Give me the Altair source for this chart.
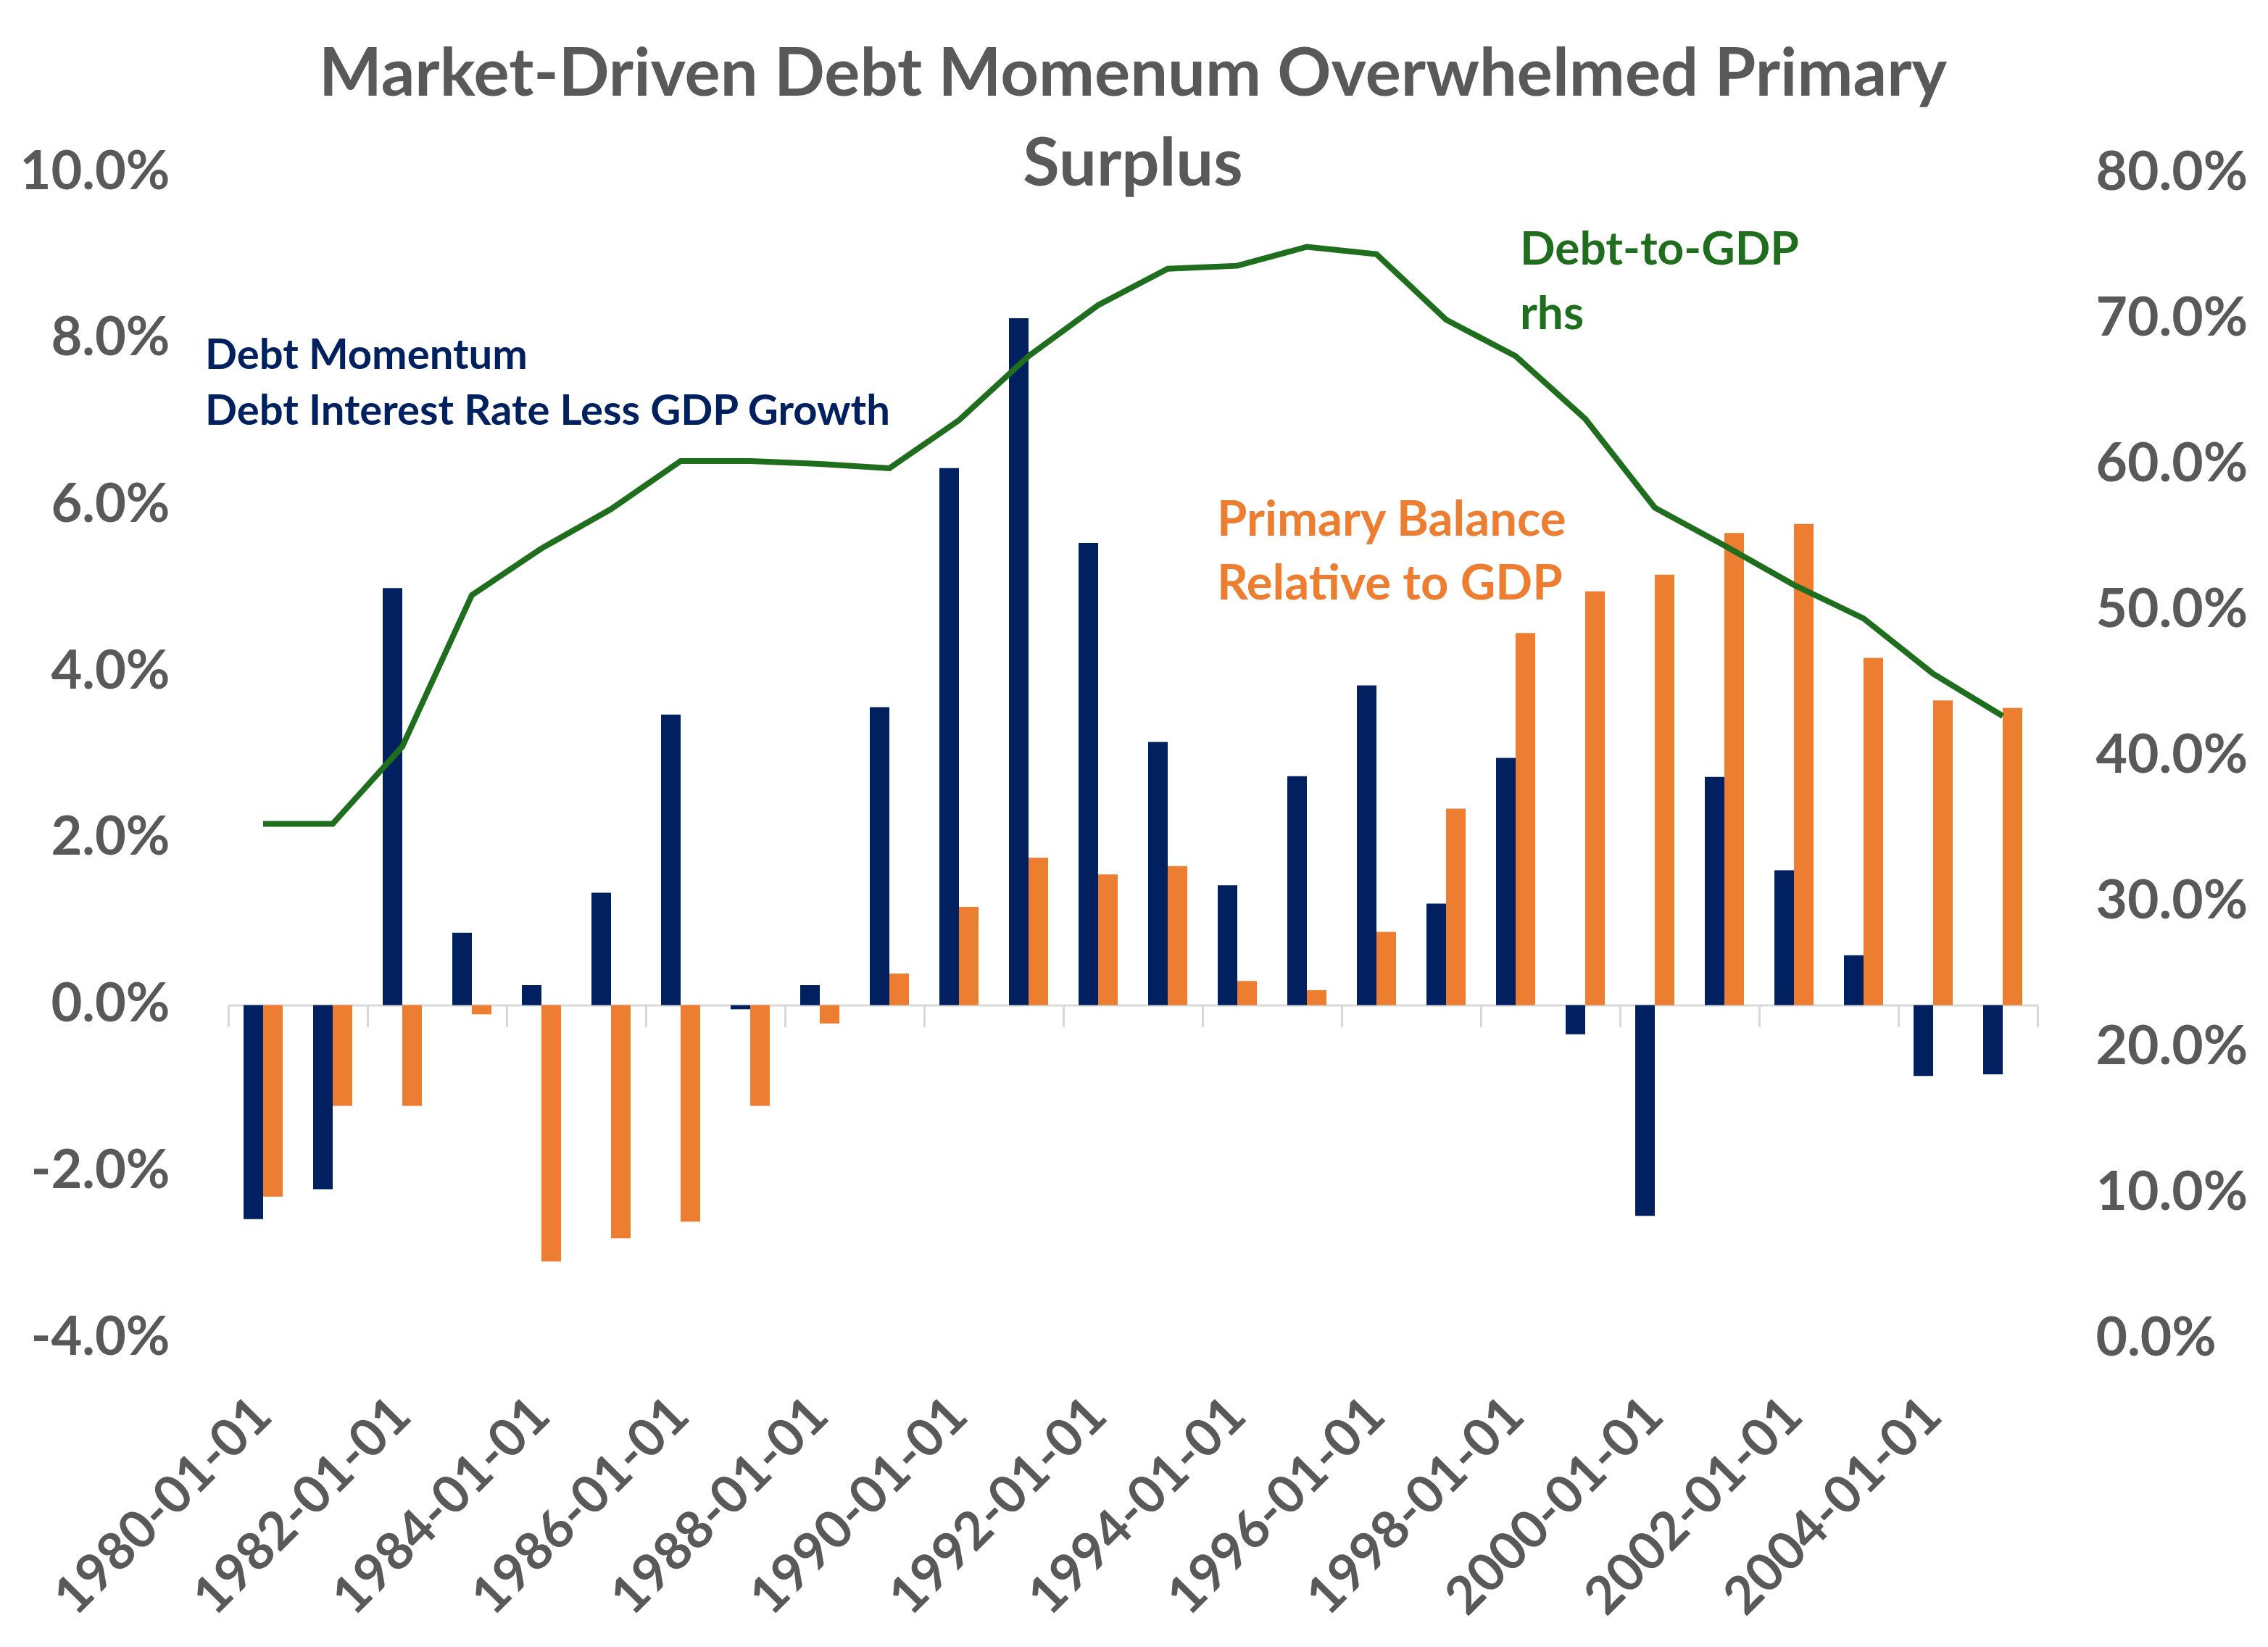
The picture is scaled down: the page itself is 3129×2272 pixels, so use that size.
import altair as alt
import pandas as pd

# category labels (annual observations)
dates = [
    "1980-01-01", "1981-01-01", "1982-01-01", "1983-01-01", "1984-01-01",
    "1985-01-01", "1986-01-01", "1987-01-01", "1988-01-01", "1989-01-01",
    "1990-01-01", "1991-01-01", "1992-01-01", "1993-01-01", "1994-01-01",
    "1995-01-01", "1996-01-01", "1997-01-01", "1998-01-01", "1999-01-01",
    "2000-01-01", "2001-01-01", "2002-01-01", "2003-01-01", "2004-01-01",
    "2005-01-01",
]
label_dates = dates[::2]

# % values, left axis
debt_momentum = [
    -2.57, -2.21, 5.01, 0.87, 0.24, 1.35, 3.49, -0.05, 0.24, 3.58,
    6.45, 8.25, 5.55, 3.16, 1.44, 2.75, 3.84, 1.22, 2.97, -0.35,
    -2.53, 2.74, 1.62, 0.60, -0.85, -0.83,
]
primary_balance = [
    -2.30, -1.21, -1.21, -0.11, -3.08, -2.80, -2.60, -1.21, -0.22, 0.38,
    1.18, 1.77, 1.57, 1.67, 0.29, 0.18, 0.88, 2.36, 4.47, 4.97,
    5.17, 5.67, 5.78, 4.17, 3.66, 3.57,
]
# % of GDP, right axis
debt_to_gdp = [
    35.3, 35.3, 40.6, 51.0, 54.2, 56.9, 60.2, 60.2, 60.0, 59.7,
    63.0, 67.4, 70.9, 73.4, 73.6, 74.9, 74.4, 69.9, 67.4, 63.1,
    57.0, 54.4, 51.7, 49.4, 45.6, 42.7,
]

left_ticks = [-4, -2, 0, 2, 4, 6, 8, 10]
right_ticks = [0, 10, 20, 30, 40, 50, 60, 70, 80]
series = ["Debt Momentum", "Primary Balance"]

# annotation texts: anchor category, left-axis value, text
notes_blue = (["1980-01-01", "1980-01-01"], [7.64, 6.97],
              ["Debt Momentum", "Debt Interest Rate Less GDP Growth"])
notes_green = (["1998-01-01", "1998-01-01"], [8.89, 8.12], ["Debt-to-GDP", "rhs"])
notes_orange = (["1994-01-01", "1994-01-01"], [5.64, 4.87],
                ["Primary Balance", "Relative to GDP"])

NAVY = "#002060"
ORANGE = "#ED7D31"
GREEN = "#1E6E1E"
GRAY = "#595959"
LIGHT = "#D9D9D9"
FONT = "Lato"

W, H = 2496, 1608
Y_MIN, Y_MAX = -4, 10

bars_df = pd.DataFrame(
    {"date": dates, "Debt Momentum": debt_momentum, "Primary Balance": primary_balance}
).melt("date", var_name="series", value_name="value")
line_df = pd.DataFrame({"date": dates, "debt": debt_to_gdp})

x_scale = alt.Scale(domain=dates, paddingInner=0, paddingOuter=0)
# hyphen-minus like Excel, one decimal
pct_expr = "(datum.value < 0 ? '-' : '') + format(abs(datum.value), '.1f') + '%'"

x_axis_labels = alt.Axis(
    orient="bottom", values=label_dates, labelAngle=-45, labelAlign="right",
    labelBaseline="middle", labelFont=FONT, labelFontSize=72,
    labelFontWeight="bold", labelColor=GRAY, labelPadding=95, labelLimit=0,
    domain=False, ticks=False, grid=False, title=None,
)
y_axis_left = alt.Axis(
    orient="left", values=left_ticks, labelExpr=pct_expr,
    labelFont=FONT, labelFontSize=74, labelFontWeight="bold", labelLimit=0,
    labelColor=GRAY, labelPadding=81, domain=False, ticks=False,
    grid=False, title=None,
)
y_axis_right = alt.Axis(
    orient="right", values=right_ticks, labelExpr=pct_expr,
    labelFont=FONT, labelFontSize=75, labelFontWeight="bold", labelLimit=0,
    labelColor=GRAY, labelPadding=80, domain=False, ticks=False,
    grid=False, title=None,
)

bars = alt.Chart(bars_df).mark_bar().encode(
    x=alt.X("date:N", scale=x_scale, axis=x_axis_labels),
    xOffset=alt.XOffset("series:N", sort=series,
                        scale=alt.Scale(paddingInner=0, paddingOuter=0.778)),
    y=alt.Y("value:Q", scale=alt.Scale(domain=[Y_MIN, Y_MAX], nice=False, zero=False),
            axis=y_axis_left),
    color=alt.Color("series:N", scale=alt.Scale(domain=series, range=[NAVY, ORANGE]),
                    legend=None),
)


def notes(spec, color, dx, size):
    cats, vals, texts = spec
    df = pd.DataFrame({"date": cats, "value": vals, "text": texts})
    return alt.Chart(df).mark_text(
        align="left", baseline="alphabetic", dx=dx, font=FONT, fontSize=size,
        fontWeight="bold", color=color,
    ).encode(
        x=alt.X("date:N", axis=x_axis_labels),
        y=alt.Y("value:Q", axis=y_axis_left),
        text="text:N",
    )


left = alt.layer(
    bars,
    notes(notes_blue, NAVY, -80, 58),
    notes(notes_green, GREEN, 6, 64),
    notes(notes_orange, ORANGE, -28, 67),
)

zero_offset = -H * (0 - Y_MIN) / (Y_MAX - Y_MIN)

line = alt.Chart(line_df).mark_line(color=GREEN, strokeWidth=8).encode(
    x=alt.X(
        "date:N",
        axis=alt.Axis(
            orient="bottom", offset=zero_offset, values=label_dates, bandPosition=0,
            labels=False, domain=True, domainColor=LIGHT, domainWidth=3,
            ticks=True, tickColor=LIGHT, tickWidth=3, tickSize=30,
            grid=False, title=None,
        ),
    ),
    y=alt.Y("debt:Q", scale=alt.Scale(domain=[0, 80], nice=False), axis=y_axis_right),
)

end_tick = alt.Chart(line_df).mark_line(opacity=0).encode(
    x=alt.X(
        "date:N",
        axis=alt.Axis(
            orient="bottom", offset=zero_offset, values=[dates[-1]], bandPosition=1,
            labels=False, domain=False, ticks=True, tickColor=LIGHT, tickWidth=3,
            tickSize=30, grid=False, title=None,
        ),
    ),
    y=alt.Y("debt:Q", axis=y_axis_right),
)

right = alt.layer(line, end_tick).resolve_axis(x="independent")

chart = (
    alt.layer(left, right)
    .resolve_scale(y="independent")
    .resolve_axis(x="independent")
    .properties(
        width=W,
        height=H,
        title=alt.Title(
            text=["Market-Driven Debt Momenum Overwhelmed Primary", "Surplus"],
            font=FONT, fontSize=92, fontWeight="bold", color=GRAY,
            anchor="middle", frame="group", offset=-74, lineHeight=124,
        ),
        padding={"left": 19, "top": 50, "right": 5, "bottom": 5},
        background="white",
    )
    .configure_view(stroke=None)
)

chart.save("out.html", embed_options={"renderer": "svg", "actions": False})
